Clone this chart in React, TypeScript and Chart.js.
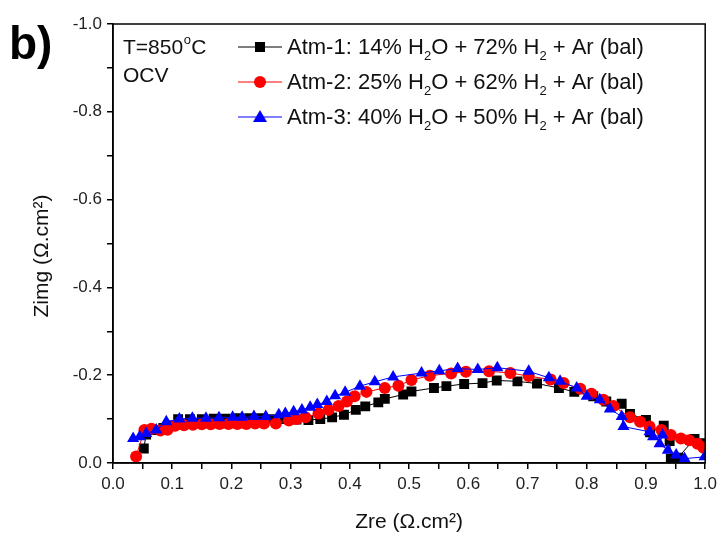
import React, { useEffect, useRef } from 'react';
import { Chart, registerables } from 'chart.js';

Chart.register(...registerables);

// ---- data (Zre, Zimg in Ω.cm²) ----
const atm1Zre = [0.052, 0.056, 0.068, 0.085, 0.098, 0.11, 0.13, 0.15, 0.17, 0.19, 0.21, 0.23, 0.25, 0.27, 0.29, 0.31, 0.33, 0.35, 0.37, 0.39, 0.41, 0.426, 0.448, 0.459, 0.49, 0.504, 0.542, 0.563, 0.593, 0.624, 0.648, 0.683, 0.716, 0.753, 0.779, 0.811, 0.833, 0.859, 0.873, 0.9, 0.907, 0.93, 0.94, 0.942, 0.954, 0.982, 0.996];
const atm1Zimg = [-0.033, -0.065, -0.075, -0.08, -0.085, -0.1, -0.1, -0.1, -0.101, -0.101, -0.102, -0.102, -0.102, -0.1, -0.1, -0.099, -0.098, -0.1, -0.104, -0.11, -0.121, -0.129, -0.138, -0.146, -0.156, -0.163, -0.171, -0.175, -0.18, -0.182, -0.188, -0.186, -0.181, -0.171, -0.162, -0.152, -0.14, -0.135, -0.112, -0.098, -0.07, -0.085, -0.05, -0.01, -0.012, -0.055, -0.045];

const atm2Zre = [0.039, 0.053, 0.065, 0.08, 0.092, 0.105, 0.12, 0.135, 0.15, 0.165, 0.18, 0.195, 0.21, 0.225, 0.24, 0.255, 0.275, 0.297, 0.31, 0.325, 0.347, 0.364, 0.381, 0.395, 0.408, 0.428, 0.459, 0.482, 0.504, 0.535, 0.571, 0.596, 0.635, 0.671, 0.702, 0.739, 0.761, 0.789, 0.808, 0.828, 0.845, 0.873, 0.89, 0.906, 0.926, 0.942, 0.959, 0.973, 0.987, 0.997];
const atm2Zimg = [-0.015, -0.075, -0.078, -0.074, -0.076, -0.085, -0.086, -0.087, -0.088, -0.088, -0.089, -0.089, -0.089, -0.089, -0.09, -0.09, -0.09, -0.097, -0.1, -0.104, -0.113, -0.121, -0.13, -0.14, -0.152, -0.162, -0.171, -0.176, -0.189, -0.199, -0.204, -0.208, -0.209, -0.205, -0.198, -0.19, -0.182, -0.169, -0.158, -0.144, -0.13, -0.104, -0.094, -0.083, -0.075, -0.064, -0.056, -0.052, -0.044, -0.035];

const atm3Zre = [0.034, 0.045, 0.056, 0.073, 0.09, 0.112, 0.134, 0.157, 0.179, 0.202, 0.218, 0.238, 0.258, 0.28, 0.291, 0.305, 0.319, 0.333, 0.345, 0.361, 0.375, 0.392, 0.417, 0.442, 0.473, 0.521, 0.551, 0.582, 0.616, 0.649, 0.702, 0.736, 0.755, 0.783, 0.8, 0.822, 0.839, 0.859, 0.862, 0.906, 0.912, 0.928, 0.923, 0.937, 0.951, 0.965, 0.999];
const atm3Zimg = [-0.056, -0.06, -0.067, -0.075, -0.094, -0.1, -0.102, -0.102, -0.103, -0.104, -0.104, -0.106, -0.106, -0.11, -0.113, -0.117, -0.121, -0.127, -0.133, -0.14, -0.153, -0.161, -0.175, -0.185, -0.196, -0.205, -0.21, -0.215, -0.213, -0.217, -0.209, -0.194, -0.186, -0.171, -0.152, -0.144, -0.123, -0.106, -0.083, -0.071, -0.06, -0.064, -0.044, -0.029, -0.018, -0.01, -0.014];

const xTicks = [0, 0.05, 0.1, 0.15, 0.2, 0.25, 0.3, 0.35, 0.4, 0.45, 0.5, 0.55, 0.6, 0.65, 0.7, 0.75, 0.8, 0.85, 0.9, 0.95, 1.0];
const yTicks = [-1.0, -0.9, -0.8, -0.7, -0.6, -0.5, -0.4, -0.3, -0.2, -0.1, 0];
const xMajor = [0, 0.1, 0.2, 0.3, 0.4, 0.5, 0.6, 0.7, 0.8, 0.9, 1.0];
const yMajor = [-1.0, -0.8, -0.6, -0.4, -0.2, 0];

const seriesLabels = ['Atm-1: 14% H', 'Atm-2: 25% H', 'Atm-3: 40% H'];
const seriesMid = ['O + 72% H', 'O + 62% H', 'O + 50% H'];
const FONT = '"Liberation Sans", Arial, sans-serif';

const toPts = (xs: number[], ys: number[]) => xs.map((x, i) => ({ x, y: ys[i] }));
const isIn = (arr: number[], v: number) => arr.some((a) => Math.abs(a - v) < 1e-6);

const decor = {
  id: 'decor',
  afterDraw(chart: any) {
    const { ctx, chartArea: ca } = chart;
    ctx.save();
    ctx.strokeStyle = '#000';
    ctx.lineWidth = 1.5;
    ctx.strokeRect(ca.left, ca.top, ca.right - ca.left, ca.bottom - ca.top);

    ctx.fillStyle = '#000';
    ctx.textBaseline = 'alphabetic';
    ctx.textAlign = 'left';
    ctx.font = `bold 46px ${FONT}`;
    ctx.fillText('b)', 9, 59);

    // condition annotation
    ctx.font = `21px ${FONT}`;
    ctx.fillStyle = '#111';
    let x = 123;
    ctx.fillText('T=850', x, 54);
    x += ctx.measureText('T=850').width;
    ctx.font = `13px ${FONT}`;
    ctx.fillText('o', x + 0.5, 44);
    x += ctx.measureText('o').width + 1;
    ctx.font = `21px ${FONT}`;
    ctx.fillText('C', x, 54);
    ctx.fillText('OCV', 123, 82);

    // legend
    const rows = [47, 82, 117];
    chart.data.datasets.forEach((ds: any, i: number) => {
      const y = rows[i];
      ctx.strokeStyle = ds.borderColor;
      ctx.lineWidth = 1;
      ctx.beginPath();
      ctx.moveTo(238, y);
      ctx.lineTo(282, y);
      ctx.stroke();
      ctx.fillStyle = ds.backgroundColor;
      if (ds.pointStyle === 'rect') {
        ctx.fillRect(255, y - 5, 10, 10);
      } else if (ds.pointStyle === 'circle') {
        ctx.beginPath();
        ctx.arc(260, y, 6, 0, Math.PI * 2);
        ctx.fill();
      } else {
        ctx.beginPath();
        ctx.moveTo(260, y - 7);
        ctx.lineTo(267, y + 5);
        ctx.lineTo(253, y + 5);
        ctx.closePath();
        ctx.fill();
      }
      ctx.fillStyle = '#111';
      let tx = 287;
      const base = y + 7;
      const big = `22px ${FONT}`;
      const small = `13px ${FONT}`;
      ctx.font = big;
      ctx.fillText(seriesLabels[i], tx, base);
      tx += ctx.measureText(seriesLabels[i]).width;
      ctx.font = small;
      ctx.fillText('2', tx, base + 6);
      tx += ctx.measureText('2').width;
      ctx.font = big;
      ctx.fillText(seriesMid[i], tx, base);
      tx += ctx.measureText(seriesMid[i]).width;
      ctx.font = small;
      ctx.fillText('2', tx, base + 6);
      tx += ctx.measureText('2').width;
      ctx.font = big;
      ctx.fillText(' + Ar (bal)', tx, base);
    });

    // axis titles
    ctx.fillStyle = '#111';
    ctx.font = `21px ${FONT}`;
    ctx.textAlign = 'center';
    ctx.textBaseline = 'middle';
    ctx.fillText('Zre (\u03A9.cm\u00B2)', (ca.left + ca.right) / 2, 522);
    ctx.translate(42, 256);
    ctx.rotate(-Math.PI / 2);
    ctx.fillText('Zimg (\u03A9.cm\u00B2)', 0, 0);
    ctx.restore();
  },
};

export default function App() {
  const ref = useRef<HTMLCanvasElement | null>(null);
  useEffect(() => {
    document.body.style.margin = '0';
    const canvas = ref.current!;
    const chart = new Chart(canvas, {
      type: 'scatter',
      data: {
        datasets: [
          {
            label: 'Atm-1',
            data: toPts(atm1Zre, atm1Zimg),
            showLine: true,
            borderColor: '#000000',
            backgroundColor: '#000000',
            borderWidth: 1,
            pointStyle: 'rect',
            pointRadius: 7,
            pointBorderWidth: 0,
            order: 3,
          },
          {
            label: 'Atm-2',
            data: toPts(atm2Zre, atm2Zimg),
            showLine: true,
            borderColor: '#ff0000',
            backgroundColor: '#ff0000',
            borderWidth: 1,
            pointStyle: 'circle',
            pointRadius: 6,
            pointBorderWidth: 0,
            order: 2,
          },
          {
            label: 'Atm-3',
            data: toPts(atm3Zre, atm3Zimg),
            showLine: true,
            borderColor: '#0000ff',
            backgroundColor: '#0000ff',
            borderWidth: 1,
            pointStyle: 'triangle',
            pointRadius: 7,
            pointBorderWidth: 0,
            order: 1,
          },
        ] as any,
      },
      options: {
        responsive: false,
        animation: false,
        devicePixelRatio: 1,
        layout: { padding: { top: 24, right: 13, left: 0, bottom: 0 } },
        plugins: { legend: { display: false }, tooltip: { enabled: false } },
        scales: {
          x: {
            type: 'linear',
            min: 0,
            max: 1,
            afterBuildTicks: (s: any) => {
              s.ticks = xTicks.map((v) => ({ value: v }));
            },
            afterFit: (s: any) => {
              s.height = 75;
            },
            ticks: {
              autoSkip: false,
              maxRotation: 0,
              padding: 5,
              color: '#222',
              font: { family: FONT, size: 17 },
              callback: (v: any) => (isIn(xMajor, Number(v)) ? Number(v).toFixed(1) : ''),
            },
            grid: { drawOnChartArea: false, drawTicks: true, tickLength: 6, color: '#000', lineWidth: 1.5 },
            border: { display: true, color: '#000', width: 1.5 },
          },
          y: {
            type: 'linear',
            min: -1,
            max: 0,
            reverse: true,
            afterBuildTicks: (s: any) => {
              s.ticks = yTicks.map((v) => ({ value: v }));
            },
            afterFit: (s: any) => {
              s.width = 113;
            },
            ticks: {
              autoSkip: false,
              padding: 5,
              color: '#222',
              font: { family: FONT, size: 17 },
              callback: (v: any) => (isIn(yMajor, Number(v)) ? Number(v).toFixed(1) : ''),
            },
            grid: { drawOnChartArea: false, drawTicks: true, tickLength: 6, color: '#000', lineWidth: 1.5 },
            border: { display: true, color: '#000', width: 1.5 },
          },
        },
      } as any,
      plugins: [decor],
    });
    return () => chart.destroy();
  }, []);
  return (
    <div style={{ width: 722, height: 538, background: '#fff' }}>
      <canvas ref={ref} width={722} height={538} style={{ display: 'block' }} />
    </div>
  );
}
